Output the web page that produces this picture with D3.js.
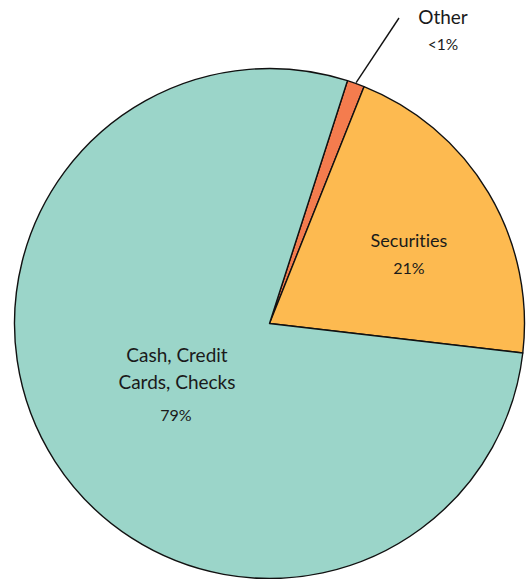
<!DOCTYPE html>
<html><head><meta charset="utf-8">
<script src="https://cdn.jsdelivr.net/npm/d3@7"></script>
<style>body{margin:0;background:#fff;} text{font-family:Lato,"Open Sans",sans-serif;fill:#1a1a1a;font-variant-ligatures:none;}</style>
</head><body><svg id="c" width="530" height="579"></svg>
<script>
const categories = ["Other", "Securities", "Cash, Credit Cards, Checks"];
const values = [1.1, 20.8, 78.1];
const pctLabels = ["<1%", "21%", "79%"];
const colors = ["#f47c4e", "#fdba50", "#9bd5c9"];

const svg = d3.select("#c");
const cx = 269.5, cy = 323.5, r = 255;
const g = svg.append("g").attr("transform", `translate(${cx},${cy})`);
const start = 17.8 * Math.PI / 180;
const pie = d3.pie().sort(null).startAngle(start).endAngle(start + 2 * Math.PI);
const arcs = pie(values);
const arc = d3.arc().innerRadius(0).outerRadius(r);
g.selectAll("path").data(arcs).join("path")
  .attr("d", arc).attr("fill", (d, i) => colors[i])
  .attr("stroke", "#111").attr("stroke-width", 1.4).attr("stroke-linejoin", "round");

// Other leader line
const a0 = (arcs[0].startAngle + arcs[0].endAngle) / 2;
const p1 = [Math.sin(a0) * (r + 1), -Math.cos(a0) * (r + 1)];
g.append("line").attr("x1", p1[0]).attr("y1", p1[1])
  .attr("x2", 399 - cx).attr("y2", 18 - cy).attr("stroke", "#111").attr("stroke-width", 1.4);
svg.append("text").attr("x", 443).attr("y", 24).attr("text-anchor", "middle").attr("font-size", 19).text(categories[0]);
svg.append("text").attr("x", 443).attr("y", 50).attr("text-anchor", "middle").attr("font-size", 15.5).text(pctLabels[0]);

// Securities
svg.append("text").attr("x", 409).attr("y", 247).attr("text-anchor", "middle").attr("font-size", 18).text(categories[1]);
svg.append("text").attr("x", 409).attr("y", 274).attr("text-anchor", "middle").attr("font-size", 16).text(pctLabels[1]);

// Cash
svg.append("text").attr("x", 177).attr("y", 362).attr("text-anchor", "middle").attr("font-size", 19).text("Cash, Credit");
svg.append("text").attr("x", 177).attr("y", 389).attr("text-anchor", "middle").attr("font-size", 19).text("Cards, Checks");
svg.append("text").attr("x", 176).attr("y", 421).attr("text-anchor", "middle").attr("font-size", 16).text(pctLabels[2]);
</script></body></html>
